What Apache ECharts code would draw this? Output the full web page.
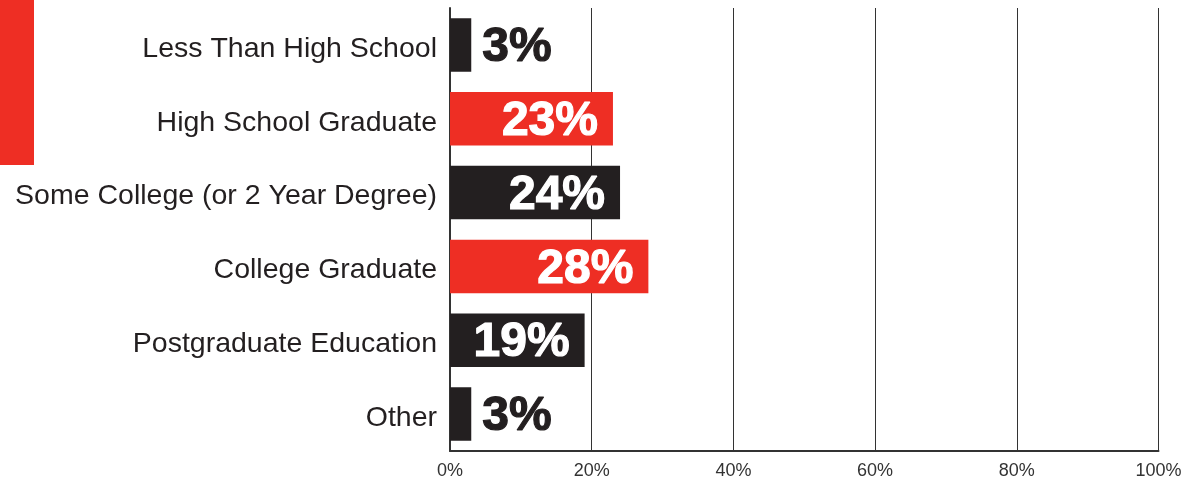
<!DOCTYPE html>
<html><head><meta charset="utf-8">
<script src="https://cdn.jsdelivr.net/npm/echarts@6/dist/echarts.min.js"></script>
<style>html,body{margin:0;padding:0;background:#fff}#c{width:1200px;height:481px}</style>
</head><body><div id="c"></div>
<script>
const categories = ["Less Than High School","High School Graduate","Some College (or 2 Year Degree)","College Graduate","Postgraduate Education","Other"];
const values = [3, 23, 24, 28, 19, 3];
const highlighted = ["High School Graduate","College Graduate"];
const tickLabels = ["0%","20%","40%","60%","80%","100%"];

const DARK = '#231f20', RED = '#ee2e24';
const chart = echarts.init(document.getElementById('c'));
const data = values.map((v, i) => {
  const color = highlighted.includes(categories[i]) ? RED : DARK;
  const outside = v < 10;
  return {
    value: v,
    itemStyle: { color: color },
    label: {
      position: outside ? 'right' : 'insideRight',
      distance: outside ? 11 : 15,
      color: outside ? DARK : '#fff',
      textBorderColor: outside ? DARK : '#fff',
      textBorderWidth: 1.2
    }
  };
});
chart.setOption({
  animation: false,
  graphic: [{ type: 'rect', shape: { x: 0, y: 0, width: 34, height: 165 }, style: { fill: RED } }],
  grid: { left: 450, right: 41.5, top: 8, bottom: 30, containLabel: false },
  xAxis: {
    type: 'value', min: 0, max: 100, interval: 20,
    axisLine: { show: true, lineStyle: { color: '#333', width: 2 } },
    axisTick: { show: false },
    splitLine: { show: true, lineStyle: { color: '#333', width: 1 } },
    axisLabel: { formatter: (v) => tickLabels[v / 20], color: '#333', fontSize: 18, fontFamily: 'Liberation Sans', margin: 11 }
  },
  yAxis: {
    type: 'category', data: categories, inverse: true,
    axisLine: { show: true, lineStyle: { color: '#333', width: 2 } },
    axisTick: { show: false },
    axisLabel: {
      margin: 13,
      formatter: (v) => '{a|' + v + '}',
      rich: { a: { color: DARK, fontSize: 28.5, fontFamily: 'Liberation Sans', padding: [8, 0, 0, 0] } }
    }
  },
  series: [{
    type: 'bar', data: data, barWidth: '72.5%',
    label: { show: true, formatter: '{c}%', fontSize: 48, fontWeight: 'bold', fontFamily: 'Liberation Sans', offset: [0, 3] }
  }]
});
</script></body></html>
